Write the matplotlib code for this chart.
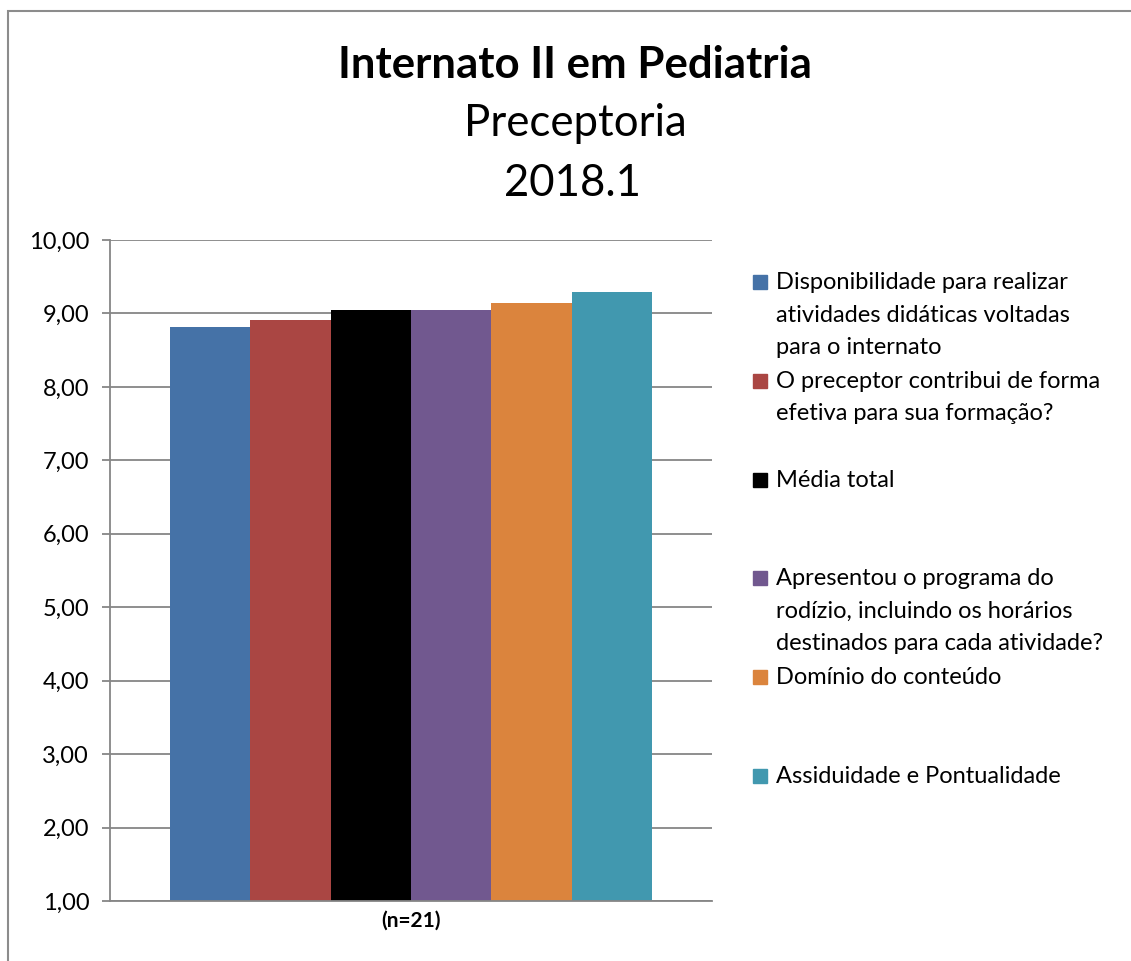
import matplotlib.pyplot as plt
from matplotlib.patches import Rectangle
from matplotlib.ticker import FuncFormatter

plt.rcParams['font.family'] = ['Lato', 'DejaVu Sans']

labels = [
    'Disponibilidade para realizar\natividades didáticas voltadas\npara o internato',
    'O preceptor contribui de forma\nefetiva para sua formação?',
    'Média total',
    'Apresentou o programa do\nrodízio, incluindo os horários\ndestinados para cada atividade?',
    'Domínio do conteúdo',
    'Assiduidade e Pontualidade',
]
values = [8.81, 8.91, 9.05, 9.05, 9.14, 9.29]
colors = ['#4572A7', '#AA4643', '#000000', '#71588F', '#DB843D', '#4198AF']
group_label = '(n=21)'

W, H = 1131, 961
fig = plt.figure(figsize=(W / 100, H / 100), dpi=100)

# outer frame (only top and left visible in reference)
fig.patches.append(Rectangle((8 / W, -0.05), 1.2, 1 - 11 / H + 0.05,
                             transform=fig.transFigure, fill=False,
                             edgecolor='#8c8c8c', lw=1.5))

ax = fig.add_axes([110 / W, 1 - 901 / H, (712 - 110) / W, (901 - 240) / H])

n = len(values)
bw = 0.8 / n
for i, (v, c) in enumerate(zip(values, colors)):
    ax.bar(-0.4 + bw * (i + 0.5), v - 1, bottom=1, width=bw, color=c, zorder=2)

ax.set_xlim(-0.5, 0.5)
ax.set_ylim(1, 10)
ax.set_yticks(range(1, 11))
ax.yaxis.set_major_formatter(FuncFormatter(lambda y, p: f'{y:.2f}'.replace('.', ',')))
ax.yaxis.grid(True, color='#868686', lw=1.3)
ax.set_axisbelow(True)
ax.set_xticks([0])
ax.set_xticklabels([group_label], fontweight='bold', fontsize=15)
ax.tick_params(axis='x', length=0, pad=7)
ax.tick_params(axis='y', length=6, width=1.3, color='#868686', labelsize=17, pad=9)
for s in ['top', 'right']:
    ax.spines[s].set_visible(False)
for s in ['left', 'bottom']:
    ax.spines[s].set_color('#868686')
    ax.spines[s].set_linewidth(1.3)

# titles
fig.text(575 / W, 1 - 65 / H, 'Internato II em Pediatria', ha='center', va='center',
         fontsize=31.5, fontweight='bold')
fig.text(575 / W, 1 - 124 / H, 'Preceptoria', ha='center', va='center', fontsize=31.5)
fig.text(573 / W, 1 - 183 / H, '2018.1', ha='center', va='center', fontsize=31.5)

# legend: one slot per entry, lines placed on their baselines
for i, (lab, c) in enumerate(zip(labels, colors)):
    yb = 289 + i * 98.8
    fig.patches.append(Rectangle((753 / W, 1 - yb / H), 14 / W, 14 / H,
                                 transform=fig.transFigure, color=c))
    for k, line in enumerate(lab.split('\n')):
        fig.text(776 / W, 1 - (yb + k * 32.5) / H, line, ha='left', va='baseline',
                 fontsize=17)

fig.savefig('out.png', dpi=100)
